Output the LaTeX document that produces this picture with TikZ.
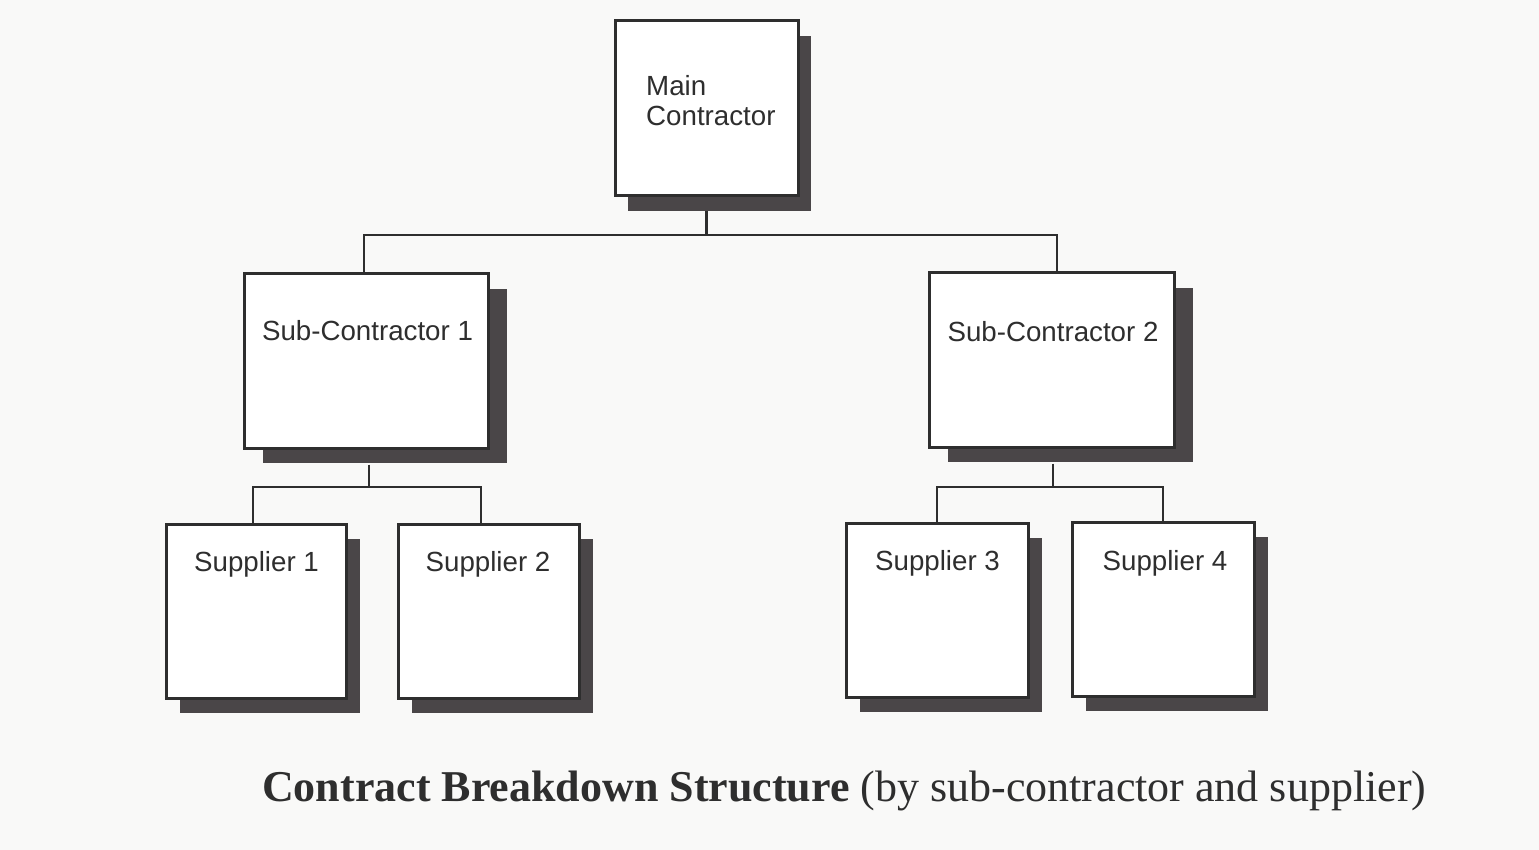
\documentclass[tikz,border=0pt]{standalone}
\usepackage{fontspec}
\setmainfont{Liberation Serif}
\newfontfamily\boxfont{Liberation Sans}
\usetikzlibrary{shadows}
\definecolor{ink}{HTML}{2E2E2E}
\definecolor{shade}{HTML}{4A4648}
\definecolor{paper}{HTML}{F9F9F8}
\begin{document}
\begin{tikzpicture}[x=1pt,y=-1pt,
  orgbox/.style={draw=ink, line width=3pt, fill=white, inner sep=0pt,
    minimum width=#1, minimum height=174pt},
  shd/.style={drop shadow={shadow xshift=#1, shadow yshift=-15pt, fill=shade, opacity=1}},
  lbl/.style={font=\boxfont\fontsize{27.7}{30}\selectfont, text=ink, inner sep=0pt},
  conn/.style={draw=ink, line width=2.5pt}]
\fill[paper] (0,0) rectangle (1539,850);
\useasboundingbox (0,0) rectangle (1539,850);

\node[orgbox=183pt, minimum height=175pt, shd=13pt] (m) at (706.5,108.5) {};
\node[orgbox=244pt, shd=19pt] (s1) at (366,361) {};
\node[orgbox=245pt, shd=19pt] (s2) at (1051.5,360) {};
\node[orgbox=180pt, shd=14pt] (p1) at (256,611) {};
\node[orgbox=181pt, shd=14pt] (p2) at (488.5,611) {};
\node[orgbox=182pt, shd=14pt] (p3) at (937,610) {};
\node[orgbox=182pt, shd=14pt] (p4) at (1163,609) {};

\draw[conn] ([yshift=-14pt]m.south) -- (706.5,235) -| ([xshift=-2pt]s1.north);
\draw[conn] (706.5,235) -| ([xshift=5.5pt]s2.north);
\draw[conn] ([xshift=3pt,yshift=-15pt]s1.south) -- (369,487) -| ([xshift=-3pt]p1.north);
\draw[conn] (369,487) -| ([xshift=-7.5pt]p2.north);
\draw[conn] ([xshift=1.5pt,yshift=-15pt]s2.south) -- (1053,487) -| (p3.north);
\draw[conn] (1053,487) -| (p4.north);

\node[lbl, anchor=west, align=left] (tm) at (646,101) {Main\\Contractor};
\node[lbl] (t1) at (367.5,331) {Sub-Contractor 1};
\node[lbl] (t2) at (1053,332) {Sub-Contractor 2};
\node[lbl] (t3) at (256.5,564) {Supplier 1};
\node[lbl] (t4) at (488,564) {Supplier 2};
\node[lbl] (t5) at (937.5,563) {Supplier 3};
\node[lbl] (t6) at (1165,563) {Supplier 4};

\node[anchor=base west, inner sep=0pt, text=ink, font=\fontsize{44}{48}\selectfont] (cap) at (262,801)
  {\textbf{Contract Breakdown Structure} (by sub-contractor and supplier)};
\end{tikzpicture}
\end{document}
